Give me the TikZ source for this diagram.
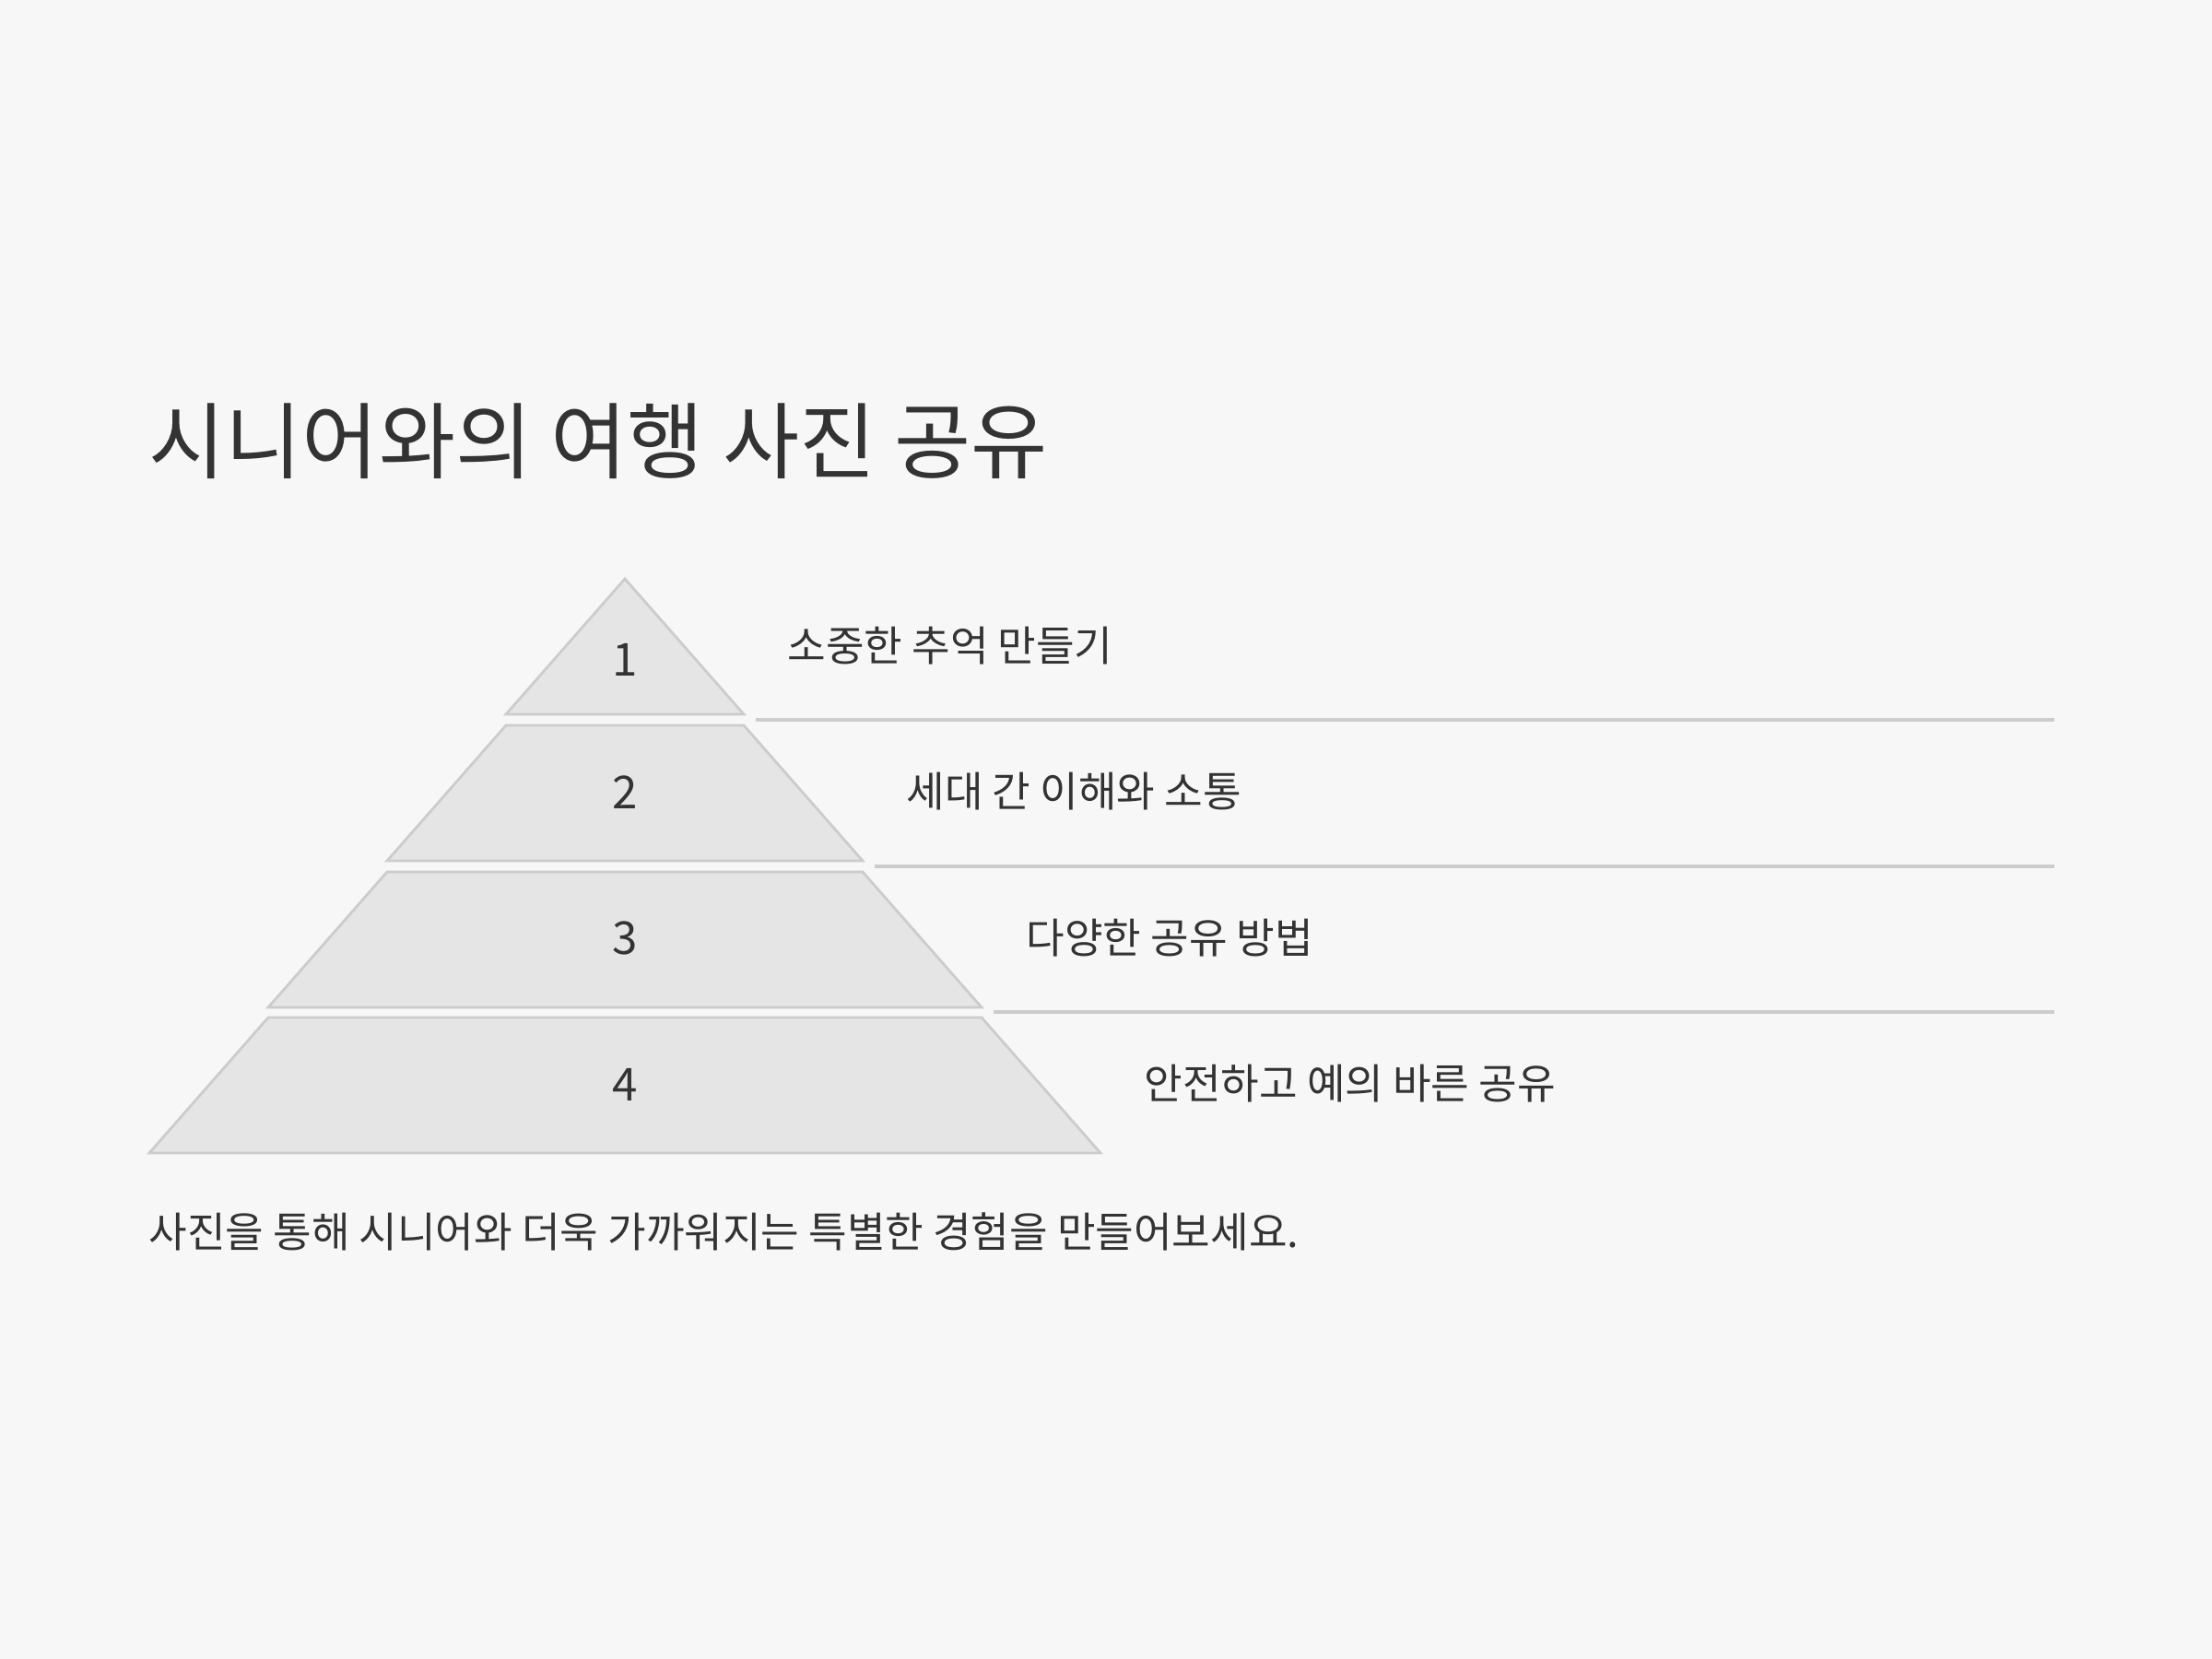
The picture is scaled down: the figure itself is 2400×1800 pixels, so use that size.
\documentclass[tikz,border=0pt]{standalone}
\usepackage{fontspec}
\setmainfont{Noto Sans CJK KR}
\usepackage{xcolor}
\usetikzlibrary{positioning}
\definecolor{paper}{HTML}{F7F7F7}
\definecolor{layerfill}{HTML}{E5E5E5}
\definecolor{layerline}{HTML}{CCCCCC}
\definecolor{ink}{HTML}{333333}

\begin{document}
\begin{tikzpicture}[x=0.01cm, y=-0.01cm,
    layer/.style={draw=layerline, fill=layerfill, line width=0.8pt},
    levelnum/.style={text=ink, inner sep=0pt, font=\fontsize{14}{16}\selectfont},
    leveltext/.style={text=ink, inner sep=0pt, anchor=west, font=\fontsize{12.85}{15}\selectfont},
    divider/.style={draw=layerline, line width=0.9pt},
    heading/.style={text=ink, inner sep=0pt, anchor=west, font=\fontsize{25.7}{30}\selectfont}]
\fill[paper] (0,0) rectangle (2400,1800);

\node[heading] (title) at (161,479) {시니어와의 여행 사진 공유};

% pyramid layers
\draw[layer] (678,628) -- (807,775) -- (549,775) -- cycle;
\draw[layer] (549,787) -- (807,787) -- (936,934) -- (420,934) -- cycle;
\draw[layer] (420,946) -- (936,946) -- (1065,1093) -- (291,1093) -- cycle;
\draw[layer] (291,1104) -- (1065,1104) -- (1194,1251) -- (162,1251) -- cycle;

\node[levelnum] (n1) at (678,716) {1};
\node[levelnum] (n2) at (678,860) {2};
\node[levelnum] (n3) at (678,1018) {3};
\node[levelnum] (n4) at (678,1177) {4};

\draw[divider] (820,781) -- (2229,781);
\draw[divider] (949,940) -- (2229,940);
\draw[divider] (1078,1098) -- (2229,1098);

\node[leveltext] (t1) at (854,701) {소중한 추억 만들기};
\node[leveltext] (t2) at (983,859) {세대 간 이해와 소통};
\node[leveltext] (t3) at (1113,1018) {다양한 공유 방법};
\node[leveltext] (t4) at (1241,1176) {안전하고 예의 바른 공유};

\node[leveltext] (note) at (161,1336) {사진을 통해 시니어와 더욱 가까워지는 특별한 경험을 만들어보세요.};
\end{tikzpicture}
\end{document}
